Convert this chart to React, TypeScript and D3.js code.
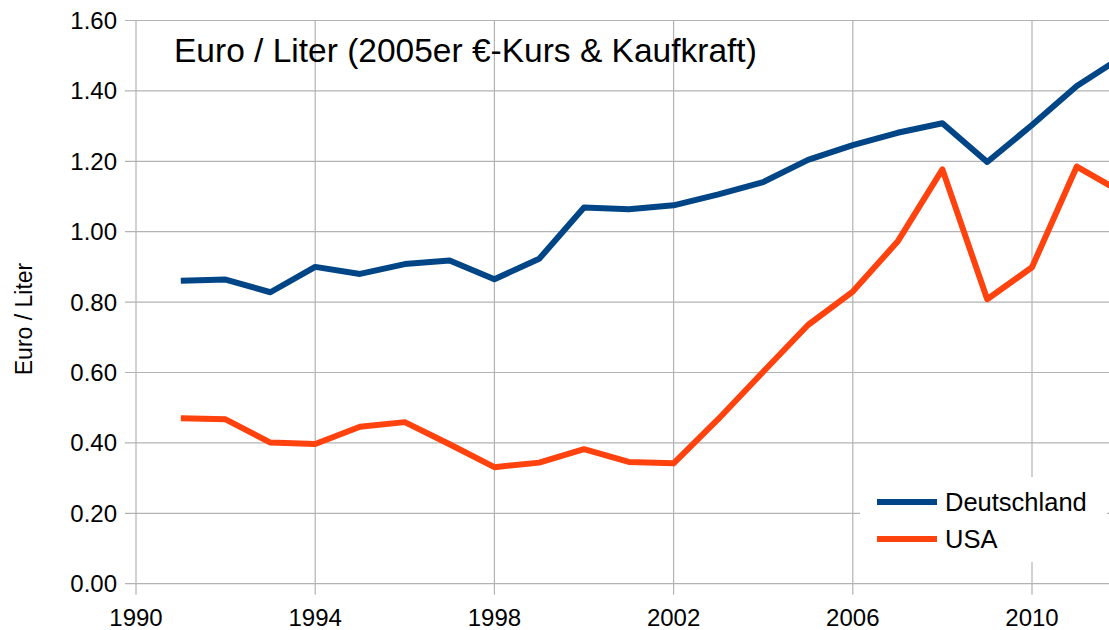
import React from "react";
import * as d3 from "d3";

const years = [1991,1992,1993,1994,1995,1996,1997,1998,1999,2000,2001,2002,2003,2004,2005,2006,2007,2008,2009,2010,2011,2012];
const deutschland = [0.861,0.864,0.828,0.900,0.880,0.908,0.918,0.865,0.923,1.069,1.064,1.075,1.106,1.141,1.204,1.246,1.281,1.308,1.198,1.303,1.414,1.496];
const usa = [0.470,0.467,0.401,0.397,0.446,0.459,0.396,0.331,0.344,0.382,0.346,0.342,0.468,0.602,0.735,0.830,0.972,1.177,0.808,0.899,1.185,1.112];
const xTicks = [1990,1994,1998,2002,2006,2010];
const yTicks = [0,0.2,0.4,0.6,0.8,1.0,1.2,1.4,1.6];
const seriesNames = ["Deutschland","USA"];
const colors = ["#004586","#ff420e"];
const title = "Euro / Liter (2005er €-Kurs & Kaufkraft)";
const yLabel = "Euro / Liter";

export default function App() {
  const W = 1109, H = 630;
  const left = 136, top = 20.5, bottom = 583.7;
  const x = d3.scaleLinear().domain([1990, 2012]).range([left, left + 22 * 44.8]);
  const y = d3.scaleLinear().domain([0, 1.6]).range([bottom, top]);
  const line = d3.line<number>().x((_, i) => x(years[i])).y(d => y(d));
  const fmt = d3.format(".2f");
  const font = "'Liberation Sans', Arial, sans-serif";
  const grid = "#b3b3b3";
  const series = [deutschland, usa];
  return (
    <svg width={W} height={H} style={{ position: "absolute", left: 0, top: 0 }} fontFamily={font}>
      <defs>
        <clipPath id="plotclip"><rect x={left} y={0} width={W - left} height={H} /></clipPath>
      </defs>
      {yTicks.map(t => (
        <g key={"y" + t}>
          <line x1={left - 11} x2={W} y1={y(t)} y2={y(t)} stroke={grid} strokeWidth={1.2} />
          <text x={117} y={y(t)} dy="0.35em" textAnchor="end" fontSize={24} fill="#000">{fmt(t)}</text>
        </g>
      ))}
      {xTicks.map(t => (
        <g key={"x" + t}>
          <line x1={x(t)} x2={x(t)} y1={top} y2={bottom + 11} stroke={grid} strokeWidth={1.2} />
          <text x={x(t)} y={626} textAnchor="middle" fontSize={24} fill="#000">{t}</text>
        </g>
      ))}
      <g clipPath="url(#plotclip)">
        {series.map((s, i) => (
          <path key={i} d={line(s) || ""} fill="none" stroke={colors[i]} strokeWidth={6} strokeLinejoin="round" />
        ))}
      </g>
      <text x={174} y={62} fontSize={33.5} fill="#000">{title}</text>
      <text transform="translate(32,319) rotate(-90)" textAnchor="middle" fontSize={23} fill="#000">{yLabel}</text>
      <rect x={860} y={477} width={247} height={85} fill="#fff" />
      {seriesNames.map((n, i) => (
        <g key={n}>
          <line x1={877} x2={937} y1={502 + i * 37} y2={502 + i * 37} stroke={colors[i]} strokeWidth={6} />
          <text x={945} y={510.5 + i * 37} fontSize={25.5} fill="#000">{n}</text>
        </g>
      ))}
    </svg>
  );
}
